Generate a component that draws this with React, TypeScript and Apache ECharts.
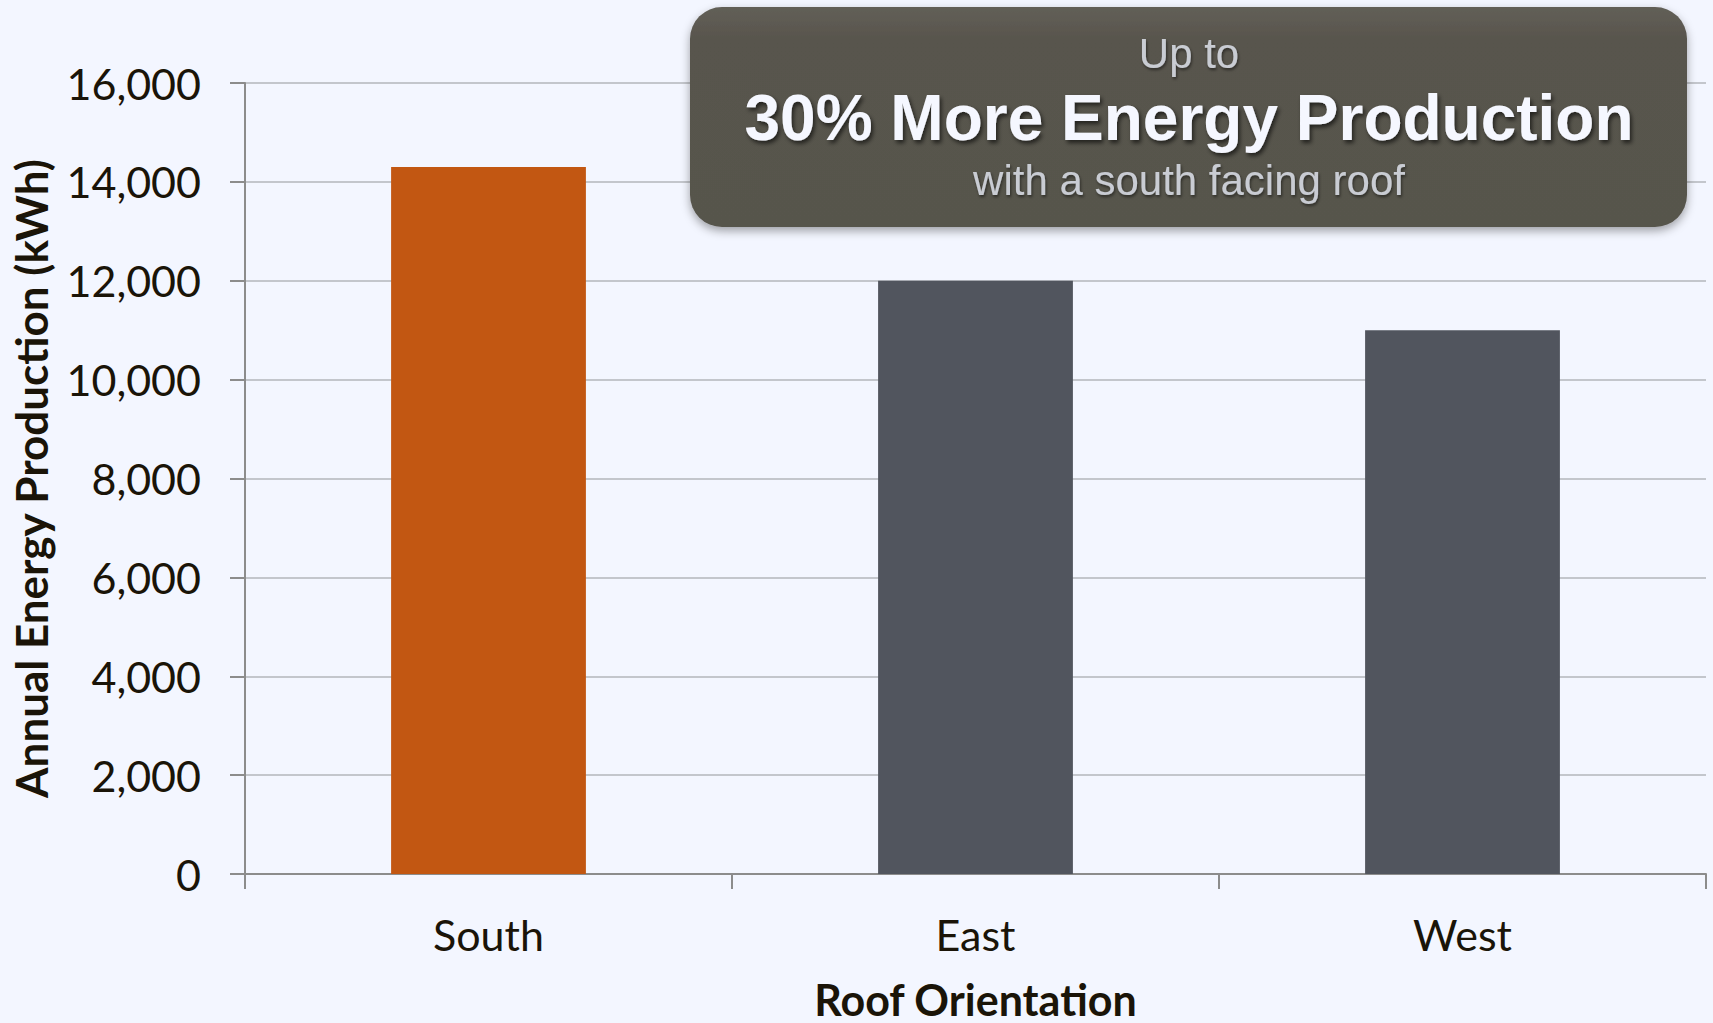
import React, { useEffect, useRef } from "react";
import * as echarts from "echarts";

const categories = ["South", "East", "West"];
const values = [14300, 12000, 11000];
const barColors = ["#c25712", "#51555e"];
const yTicks = [0, 16000, 2000]; // min, max, interval
const calloutLines = ["Up to", "30% More Energy Production", "with a south facing roof"];

export default function App() {
  const ref = useRef<HTMLDivElement>(null);
  useEffect(() => {
    document.body.style.margin = "0";
    const chart = echarts.init(ref.current!, null, { renderer: "svg" });
    chart.setOption({
      animation: false,
      backgroundColor: "#f3f6ff",
      grid: {
        left: 245,
        right: 7,
        top: 83,
        bottom: 149,
        containLabel: false,
        outerBoundsMode: "none",
      },
      xAxis: {
        type: "category",
        data: categories,
        name: "Roof Orientation",
        nameLocation: "middle",
        nameGap: 107,
        nameTextStyle: {
          fontFamily: "Lato",
          fontWeight: "bold",
          fontSize: 43,
          lineHeight: 36,
          color: "#1a1408",
        },
        axisLine: { lineStyle: { color: "#8c8c8c", width: 2 } },
        axisTick: { show: true, length: 15, lineStyle: { color: "#8c8c8c", width: 2 } },
        axisLabel: { fontFamily: "Lato", fontSize: 43, color: "#1a1408", margin: 39 },
      },
      yAxis: {
        type: "value",
        min: yTicks[0],
        max: yTicks[1],
        interval: yTicks[2],
        name: "Annual Energy Production (kWh)",
        nameLocation: "middle",
        nameGap: 192,
        nameTextStyle: { fontFamily: "Lato", fontWeight: "bold", fontSize: 44, color: "#1a1408" },
        axisLine: { show: true, lineStyle: { color: "#8c8c8c", width: 2 } },
        axisTick: { show: true, length: 15, lineStyle: { color: "#8c8c8c", width: 2 } },
        axisLabel: {
          fontFamily: "Lato",
          fontSize: 43,
          color: "#1a1408",
          margin: 44,
          formatter: (v: number) => v.toLocaleString("en-US"),
        },
        splitLine: { lineStyle: { color: "#c3c6cc", width: 2 } },
      },
      series: [
        {
          type: "bar",
          data: values.map((v, i) => ({
            value: v,
            itemStyle: { color: i === 0 ? barColors[0] : barColors[1] },
          })),
          barWidth: "40%",
        },
      ],
      graphic: [
        {
          type: "rect",
          z: 100,
          shape: { x: 690, y: 7, width: 997, height: 220, r: 32 },
          style: {
            fill: new echarts.graphic.LinearGradient(0, 0, 0, 1, [
              { offset: 0, color: "#625f57" },
              { offset: 0.15, color: "#58554d" },
              { offset: 1, color: "#57544c" },
            ]),
            shadowBlur: 10,
            shadowOffsetX: 0,
            shadowOffsetY: 4,
            shadowColor: "rgba(0,0,0,0.35)",
          },
        },
        {
          type: "text",
          z: 101,
          x: 1189,
          y: 53,
          style: {
            text: calloutLines[0],
            font: "42px 'Liberation Sans', Arial, sans-serif",
            fill: "#c9ccd3",
            align: "center",
            verticalAlign: "middle",
            textShadowColor: "rgba(0,0,0,0.5)",
            textShadowBlur: 3,
            textShadowOffsetX: 1,
            textShadowOffsetY: 2,
          },
        },
        {
          type: "text",
          z: 101,
          x: 1189,
          y: 118,
          style: {
            text: calloutLines[1],
            font: "bold 64px 'Liberation Sans', Arial, sans-serif",
            fill: "#f5f7ff",
            align: "center",
            verticalAlign: "middle",
            textShadowColor: "rgba(0,0,0,0.6)",
            textShadowBlur: 4,
            textShadowOffsetX: 2,
            textShadowOffsetY: 3,
          },
        },
        {
          type: "text",
          z: 101,
          x: 1189,
          y: 180,
          style: {
            text: calloutLines[2],
            font: "42px 'Liberation Sans', Arial, sans-serif",
            fill: "#c9ccd3",
            align: "center",
            verticalAlign: "middle",
            textShadowColor: "rgba(0,0,0,0.5)",
            textShadowBlur: 3,
            textShadowOffsetX: 1,
            textShadowOffsetY: 2,
          },
        },
      ],
    });
    return () => chart.dispose();
  }, []);
  return <div ref={ref} style={{ width: 1713, height: 1023 }} />;
}
